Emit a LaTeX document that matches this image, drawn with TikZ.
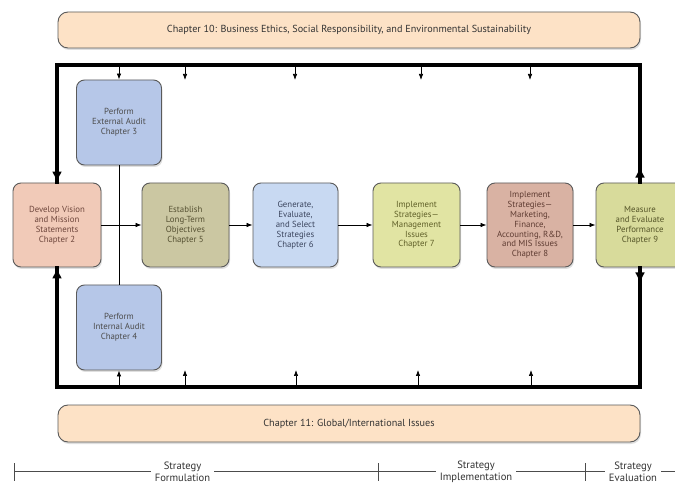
\documentclass[tikz,border=0pt]{standalone}
\usepackage{fontspec}
\setmainfont{PT Sans}
\usetikzlibrary{arrows.meta,shadows}
\definecolor{peach}{HTML}{FDE2C6}
\definecolor{auditblue}{HTML}{B6C7E8}
\definecolor{visionpink}{HTML}{F1CAB8}
\definecolor{khaki}{HTML}{CBC7A2}
\definecolor{genblue}{HTML}{C8D9F2}
\definecolor{limey}{HTML}{E1E4A3}
\definecolor{rosebrown}{HTML}{D9B2A3}
\definecolor{measgreen}{HTML}{D8DB9B}
\definecolor{edge}{HTML}{5A5A5A}
\begin{document}
\begin{tikzpicture}[x=1pt,y=-1pt,
  box/.style={draw=edge, line width=0.9pt, rounded corners=8pt, align=center,
     font=\fontsize{8.8}{9.9}\selectfont, inner sep=1pt,
     drop shadow={shadow xshift=1pt, shadow yshift=-2pt, opacity=0.25}},
  bandbox/.style={draw=edge, line width=0.9pt, fill=peach, rounded corners=10pt,
     font=\fontsize{10.2}{12}\selectfont, text=black!80,
     drop shadow={shadow xshift=1pt, shadow yshift=-2pt, opacity=0.25}},
  frame/.style={line width=3.4pt, line cap=rect},
  bigtip/.style={line width=3.4pt, -{Latex[length=11pt,width=10pt]}},
  thin/.style={line width=0.7pt, -{Latex[length=6pt,width=4.5pt]}},
  plainline/.style={line width=0.7pt},
  phase/.style={align=center, fill=white, inner xsep=4pt, inner ysep=0pt,
     font=\fontsize{10.6}{12.4}\selectfont, text=black!80}
]
\clip (0,0) rectangle (675,486);
\fill[white] (0,0) rectangle (675,486);

% bands
\node[bandbox, minimum width=582pt, minimum height=36pt] (top) at (349,30)
  {Chapter 10: Business Ethics, Social Responsibility, and Environmental Sustainability};
\node[bandbox, minimum width=582pt, minimum height=37pt] (bot) at (349,423.5)
  {Chapter 11: Global/International Issues};

% boxes
\node[box, fill=auditblue, text=black!70, minimum width=85pt, minimum height=85pt] (ext) at (119,122.5)
  {Perform\\External Audit\\Chapter 3};
\node[box, fill=auditblue, text=black!70, minimum width=85pt, minimum height=85pt] (int) at (119,327.5)
  {Perform\\Internal Audit\\Chapter 4};
\node[box, fill=visionpink, text={rgb,255:red,110;green,70;blue,60}, minimum width=88pt, minimum height=84pt] (vis) at (57,225)
  {Develop Vision\\and Mission\\Statements\\Chapter 2};
\node[box, fill=khaki, text={rgb,255:red,85;green,80;blue,50}, minimum width=87pt, minimum height=84pt] (est) at (185.5,225)
  {Establish\\Long-Term\\Objectives\\Chapter 5};
\node[box, fill=genblue, text={rgb,255:red,60;green,70;blue,95}, minimum width=85pt, minimum height=84pt] (gen) at (295.5,225)
  {Generate,\\Evaluate,\\and Select\\Strategies\\Chapter 6};
\node[box, fill=limey, text={rgb,255:red,95;green,95;blue,40}, minimum width=87pt, minimum height=84pt] (imp7) at (416.5,225)
  {Implement\\Strategies---\\Management\\Issues\\Chapter 7};
\node[box, fill=rosebrown, text={rgb,255:red,95;green,60;blue,50}, minimum width=86pt, minimum height=84pt] (imp8) at (530,225)
  {Implement\\Strategies---\\Marketing,\\Finance,\\Accounting, R\&D,\\and MIS Issues\\Chapter 8};
\node[box, fill=measgreen, text={rgb,255:red,85;green,85;blue,40}, minimum width=88pt, minimum height=84pt] (meas) at (640,225)
  {Measure\\and Evaluate\\Performance\\Chapter 9};

% frame corners
\coordinate (TL) at (57,65);
\coordinate (TR) at (640,65);
\coordinate (BL) at (57,387);
\coordinate (BR) at (640,387);

\draw[frame] (vis.north) -- (TL) -- (TR) -- (meas.north);
\draw[frame] (vis.south) -- (BL) -- (BR) -- (meas.south);
\draw[bigtip] ([yshift=14pt]vis.north) -- (vis.north);
\draw[bigtip] ([yshift=-14pt]vis.south) -- (vis.south);
\draw[bigtip] (meas.north) -- ([yshift=16pt]meas.north);
\draw[bigtip] (meas.south) -- ([yshift=-16pt]meas.south);

% small arrows from top frame
\coordinate (ta) at (119,66);
\coordinate (tb) at (185,66);  \coordinate (tb2) at (185,80);
\coordinate (tc) at (295,66);  \coordinate (tc2) at (295,80);
\coordinate (td) at (421,66);  \coordinate (td2) at (421,80);
\coordinate (te) at (530,66);  \coordinate (te2) at (530,80);
\draw[thin] (ta) -- (ext.north);
\draw[thin] (tb) -- (tb2);
\draw[thin] (tc) -- (tc2);
\draw[thin] (td) -- (td2);
\draw[thin] (te) -- (te2);

% small arrows from bottom frame
\coordinate (ba) at (119,386);
\coordinate (bb) at (185,386);  \coordinate (bb2) at (185,370);
\coordinate (bc) at (296,386);  \coordinate (bc2) at (296,370);
\coordinate (bd) at (418,386);  \coordinate (bd2) at (418,370);
\coordinate (be) at (531,386);  \coordinate (be2) at (531,370);
\draw[thin] (ba) -- (int.south);
\draw[thin] (bb) -- (bb2);
\draw[thin] (bc) -- (bc2);
\draw[thin] (bd) -- (bd2);
\draw[thin] (be) -- (be2);

% audit connector and main flow
\draw[plainline] (ext.south) -- (int.north);
\draw[thin] (vis.east) -- (est.west);
\draw[thin] (est.east) -- (gen.west);
\draw[thin] (gen.east) -- (imp7.west);
\draw[thin] (imp7.east) -- (imp8.west);
\draw[thin] (imp8.east) -- (meas.west);

% timeline
\coordinate (L0) at (14,471);
\coordinate (L1) at (378,471);
\coordinate (L2) at (585,471);
\coordinate (L3) at (676,471);
\draw[plainline, draw=black!70] (L0) -- (L3);
\draw[plainline, draw=black!70] ([yshift=8pt]L0) -- ([yshift=-10pt]L0);
\draw[plainline, draw=black!70] ([yshift=8pt]L1) -- ([yshift=-10pt]L1);
\draw[plainline, draw=black!70] ([yshift=8pt]L2) -- ([yshift=-10pt]L2);
\node[phase] (pf) at (182.5,472) {Strategy\\Formulation};
\node[phase] (pi) at (476,472) {Strategy\\Implementation};
\node[phase] (pe) at (633,472) {Strategy\\Evaluation};
\end{tikzpicture}
\end{document}
